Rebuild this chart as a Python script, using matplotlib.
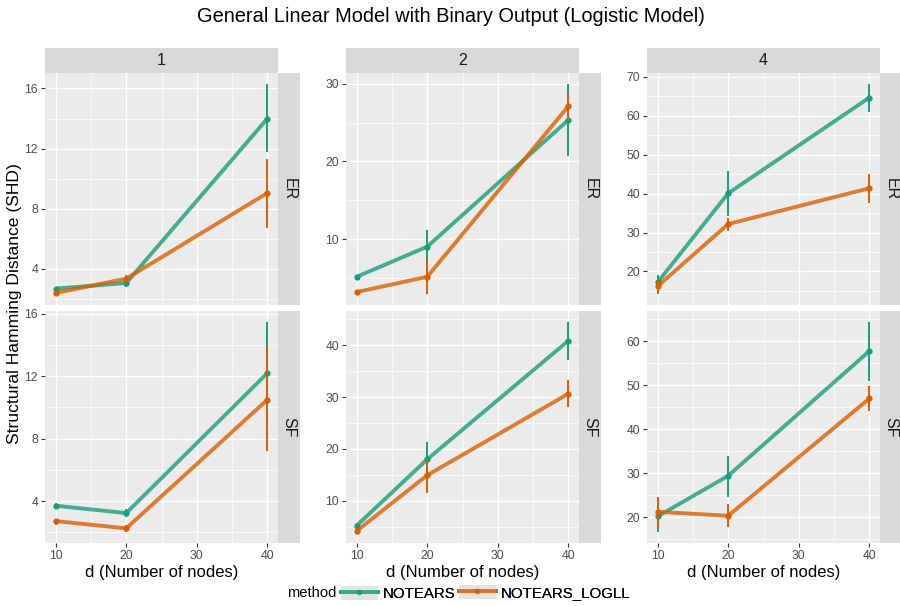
import matplotlib.pyplot as plt
from matplotlib.lines import Line2D
from matplotlib.patches import Patch
from matplotlib.legend_handler import HandlerTuple
from matplotlib.ticker import FixedLocator, MultipleLocator

plt.rcParams['font.family'] = ['Liberation Sans', 'DejaVu Sans']

d = [10, 20, 40]
k_labels = ['1', '2', '4']
graph_types = ['ER', 'SF']
methods = ['NOTEARS', 'NOTEARS_LOGLL']
colors = ['#1B9E77', '#D95F02']

# rows of each list: k = 1, 2, 4 ; values at d = 10, 20, 40
nt_er = [[2.67, 3.04, 14.0], [5.2, 9.06, 25.33], [17.2, 40.1, 64.7]]
nt_er_lo = [[2.55, 2.8, 11.76], [4.95, 6.87, 20.7], [15.5, 34.3, 60.9]]
nt_er_hi = [[2.8, 3.2, 16.33], [5.45, 11.2, 30.0], [19.1, 45.9, 68.3]]
ll_er = [[2.38, 3.33, 9.04], [3.23, 5.2, 27.1], [16.2, 32.2, 41.4]]
ll_er_lo = [[2.28, 3.05, 6.71], [3.0, 2.93, 25.4], [14.1, 30.5, 37.7]]
ll_er_hi = [[2.5, 3.6, 11.33], [3.45, 7.35, 28.76], [18.2, 33.8, 45.0]]

nt_sf = [[3.71, 3.24, 12.2], [5.16, 17.98, 40.9], [20.15, 29.4, 57.8]]
nt_sf_lo = [[3.55, 2.97, 8.95], [4.85, 14.6, 37.2], [16.5, 24.5, 50.9]]
nt_sf_hi = [[3.9, 3.5, 15.5], [5.45, 21.3, 44.6], [23.8, 34.0, 64.5]]
ll_sf = [[2.73, 2.26, 10.5], [4.13, 14.9, 30.66], [21.2, 20.3, 47.0]]
ll_sf_lo = [[2.5, 2.0, 7.24], [3.85, 11.5, 28.0], [17.6, 17.7, 44.2]]
ll_sf_hi = [[2.85, 2.5, 13.8], [4.4, 18.1, 33.4], [24.6, 23.0, 49.8]]

yticks_er = [[4, 8, 12, 16], [10, 20, 30], [20, 30, 40, 50, 60, 70]]
yticks_sf = [[4, 8, 12, 16], [10, 20, 30, 40], [20, 30, 40, 50, 60]]
xticks = [10, 20, 30, 40]

W, H = 900, 606
fig = plt.figure(figsize=(W / 100, H / 100), dpi=100)

def fx(px):
    return px / W

def fy(top, bottom):
    return 1 - bottom / H, (bottom - top) / H

panel_left = [45, 346, 647]
panel_w = 233
strip_w = 22
rows_px = [(73, 305), (311, 543)]

tick_color = '#4D4D4D'

for c in range(3):
    for r in range(2):
        if r == 0:
            series = [(nt_er, nt_er_lo, nt_er_hi), (ll_er, ll_er_lo, ll_er_hi)]
            yt = yticks_er[c]
        else:
            series = [(nt_sf, nt_sf_lo, nt_sf_hi), (ll_sf, ll_sf_lo, ll_sf_hi)]
            yt = yticks_sf[c]
        b, h = fy(*rows_px[r])
        ax = fig.add_axes([fx(panel_left[c]), b, fx(panel_w), h])
        ax.set_facecolor('#EBEBEB')
        for s in ax.spines.values():
            s.set_visible(False)
        lows, highs = [], []
        for (mean, lo, hi), col in zip(series, colors):
            ax.plot(d, mean[c], color=col, lw=2.8, alpha=0.8, solid_capstyle='butt')
            ax.plot(d, mean[c], 'o', color=col, ms=3.5)
            ax.vlines(d, lo[c], hi[c], color=col, lw=1.4)
            lows += lo[c]
            highs += hi[c]
        ymin, ymax = min(lows), max(highs)
        pad = (ymax - ymin) * 0.05
        ax.set_ylim(ymin - pad, ymax + pad)
        ax.set_xlim(8.5, 41.5)
        ax.yaxis.set_major_locator(FixedLocator(yt))
        step = yt[1] - yt[0]
        ax.yaxis.set_minor_locator(MultipleLocator(step / 2))
        ax.xaxis.set_major_locator(FixedLocator(xticks))
        ax.xaxis.set_minor_locator(MultipleLocator(5))
        ax.grid(which='major', color='white', lw=1.0)
        ax.grid(which='minor', color='white', lw=0.5)
        ax.set_axisbelow(True)
        ax.tick_params(which='major', length=3, width=0.8, color='#333333',
                       labelsize=8.7, labelcolor=tick_color, pad=2)
        ax.tick_params(which='minor', length=0)
        ax.set_yticklabels([str(v) for v in yt])
        if r == 0:
            ax.tick_params(axis='x', length=0, labelbottom=False)
        else:
            ax.set_xticklabels([str(v) for v in xticks])
            ax.set_xlabel('d (Number of nodes)', fontsize=12, labelpad=2)
        # right strip
        sax = fig.add_axes([fx(panel_left[c] + panel_w), b, fx(strip_w), h])
        sax.set_facecolor('#D9D9D9')
        sax.set_xticks([])
        sax.set_yticks([])
        for s in sax.spines.values():
            s.set_visible(False)
        sax.text(0.5, 0.5, graph_types[r], rotation=-90, ha='center', va='center',
                 fontsize=11.5, color='#1A1A1A', transform=sax.transAxes)
    # top strip
    b, h = fy(48, 73)
    tax = fig.add_axes([fx(panel_left[c]), b, fx(panel_w), h])
    tax.set_facecolor('#D9D9D9')
    tax.set_xticks([])
    tax.set_yticks([])
    for s in tax.spines.values():
        s.set_visible(False)
    tax.text(0.5, 0.5, k_labels[c], ha='center', va='center', fontsize=11.5,
             color='#1A1A1A', transform=tax.transAxes)

fig.text(fx(15), 1 - 304 / H, 'Structural Hamming Distance (SHD)', rotation=90,
         ha='center', va='center', fontsize=12.6)
fig.text(fx(451), 1 - 16 / H, 'General Linear Model with Binary Output (Logistic Model)',
         ha='center', va='center', fontsize=14.4)

# legend: one box per method; the underscore label sits a bit low, so nudge it up
fig.text(fx(287), 1 - 593 / H, 'method', ha='left', va='center', fontsize=10.6)
legend_x = [341, 459]
legend_top = [586, 584.5]
for name, col, lx, ly in zip(methods, colors, legend_x, legend_top):
    handle = (Patch(facecolor='#E3E3E3', edgecolor='none'),
              Line2D([], [], color=col, lw=2.8, alpha=0.85, marker='o', ms=3,
                     markerfacecolor=col, markeredgecolor=col))
    leg = fig.legend(handles=[handle], labels=[name],
                     handler_map={tuple: HandlerTuple(ndivide=1, pad=0)},
                     loc='upper left', bbox_to_anchor=(fx(lx), 1 - ly / H),
                     frameon=False, fontsize=10.8, handlelength=2.45, handleheight=1.1,
                     handletextpad=0.33, borderaxespad=0, borderpad=0)
    fig.add_artist(leg)

fig.savefig('out.png', dpi=100)
